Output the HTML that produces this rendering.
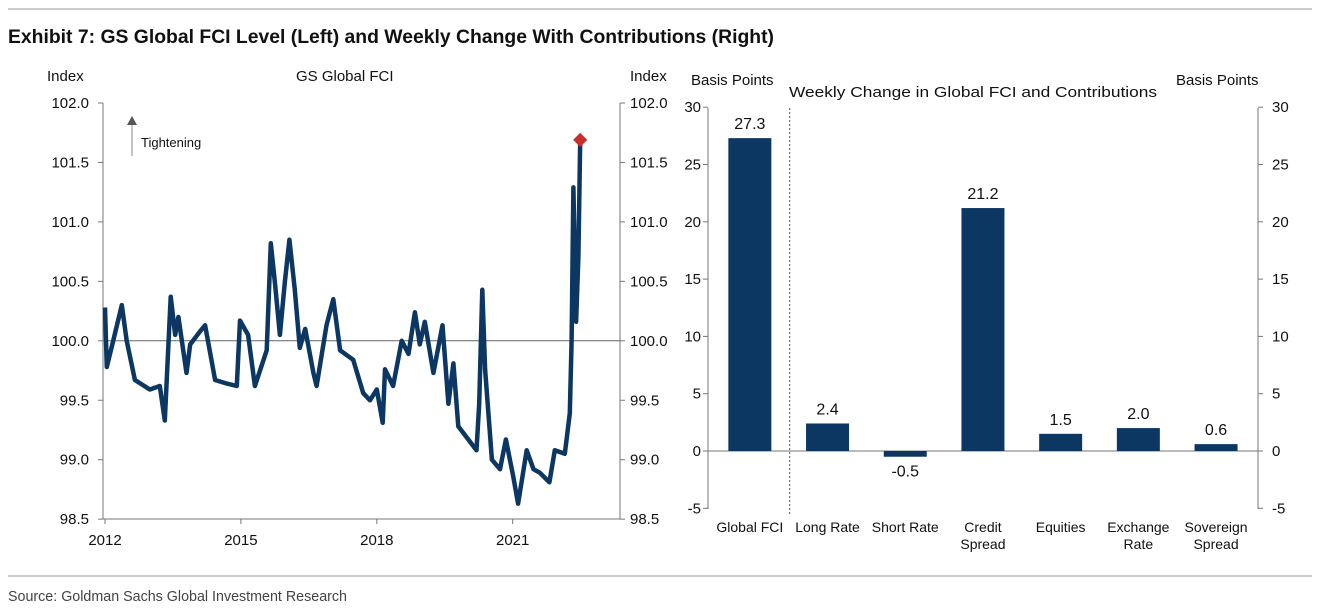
<!DOCTYPE html>
<html><head><meta charset="utf-8"><style>
body{margin:0;background:#fff;width:1318px;height:613px;overflow:hidden;font-family:"Liberation Sans",Arial,sans-serif}
svg{position:absolute;left:0;top:0}
</style></head><body>
<svg width="1318" height="613" id="s">
<line x1="8" y1="9" x2="1312" y2="9" stroke="#999" stroke-width="1"/>
<text x="8" y="43" font-weight="bold" font-size="19" fill="#111" textLength="766" lengthAdjust="spacingAndGlyphs">Exhibit 7: GS Global FCI Level (Left) and Weekly Change With Contributions (Right)</text>
<line x1="8" y1="576" x2="1312" y2="576" stroke="#999" stroke-width="1"/>
<text x="8" y="601" font-size="15" fill="#444" textLength="339" lengthAdjust="spacingAndGlyphs">Source: Goldman Sachs Global Investment Research</text>
<g font-size="15" fill="#111">
<text x="47" y="81">Index</text>
<text x="296" y="81">GS Global FCI</text>
<text x="630" y="81">Index</text>
<text x="691" y="85">Basis Points</text>
<text x="789" y="97" textLength="368" lengthAdjust="spacingAndGlyphs">Weekly Change in Global FCI and Contributions</text>
<text x="1176" y="85">Basis Points</text>
</g>
<g id="left"></g><g id="right"></g>
</svg>
<script>
const years=[2012.0,2012.04,2012.18,2012.37,2012.48,2012.66,2012.99,2013.21,2013.32,2013.45,2013.55,2013.62,2013.80,2013.88,2014.10,2014.21,2014.43,2014.69,2014.91,2014.98,2015.16,2015.31,2015.57,2015.66,2015.75,2015.86,2015.97,2016.07,2016.19,2016.30,2016.42,2016.60,2016.67,2016.89,2017.04,2017.19,2017.48,2017.70,2017.85,2018.00,2018.13,2018.18,2018.36,2018.55,2018.70,2018.84,2018.95,2019.06,2019.25,2019.45,2019.58,2019.69,2019.80,2019.98,2020.20,2020.26,2020.33,2020.39,2020.54,2020.72,2020.85,2021.01,2021.12,2021.31,2021.46,2021.60,2021.81,2021.93,2022.15,2022.26,2022.30,2022.34,2022.40,2022.45,2022.49];
const fci=[100.28,99.78,100.0,100.3,100.0,99.67,99.59,99.62,99.33,100.37,100.05,100.2,99.73,99.97,100.08,100.13,99.67,99.64,99.62,100.17,100.05,99.62,99.92,100.82,100.49,100.05,100.49,100.85,100.43,99.94,100.1,99.73,99.62,100.13,100.35,99.92,99.84,99.56,99.5,99.59,99.31,99.76,99.62,100.0,99.89,100.24,99.97,100.16,99.73,100.13,99.47,99.81,99.28,99.19,99.08,99.47,100.43,99.76,99.0,98.92,99.17,98.86,98.63,99.08,98.92,98.89,98.81,99.08,99.05,99.39,100.0,101.29,100.16,100.71,101.69];
const leftTicks=[102.0,101.5,101.0,100.5,100.0,99.5,99.0,98.5];
const xTicks=[2012,2015,2018,2021];
const cats=[["Global FCI"],["Long Rate"],["Short Rate"],["Credit","Spread"],["Equities"],["Exchange","Rate"],["Sovereign","Spread"]];
const vals=[27.3,2.4,-0.5,21.2,1.5,2.0,0.6];
const labels=["27.3","2.4","-0.5","21.2","1.5","2.0","0.6"];
const rightTicks=[30,25,20,15,10,5,0,-5];

const NS="http://www.w3.org/2000/svg";
function mk(p,t,a,txt){const e=document.createElementNS(NS,t);for(const k in a)e.setAttribute(k,a[k]);if(txt!==undefined)e.textContent=txt;p.appendChild(e);return e;}
const L=document.getElementById('left');
const lx=y=>105+(y-2012)*45.3, ly=v=>103+(102-v)*118.9;
let e;
e=mk(L,'line',{x1:103,y1:103,x2:103,y2:519,stroke:'#777'});

e=mk(L,'line',{x1:620,y1:103,x2:620,y2:519,stroke:'#777'});

e=mk(L,'line',{x1:103,y1:519,x2:620,y2:519,stroke:'#777'});

e=mk(L,'line',{x1:103,y1:ly(100),x2:620,y2:ly(100),stroke:'#666'});

leftTicks.forEach(t=>{const y=ly(t);
 mk(L,'line',{x1:98,y1:y,x2:103,y2:y,stroke:'#777'});
 mk(L,'line',{x1:620,y1:y,x2:625,y2:y,stroke:'#777'});
 e=mk(L,'text',{x:89,y:y+5,'text-anchor':'end','font-size':15,fill:'#111'},t.toFixed(1));
 
 e=mk(L,'text',{x:630,y:y+5,'font-size':15,fill:'#111'},t.toFixed(1));
 
});
xTicks.forEach(t=>{const x=lx(t);
 mk(L,'line',{x1:x,y1:519,x2:x,y2:524,stroke:'#777'});
 e=mk(L,'text',{x:x,y:545,'text-anchor':'middle','font-size':15,fill:'#111'},String(t));
 
});
e=mk(L,'path',{d:years.map((y,i)=>(i?'L':'M')+lx(y).toFixed(1)+','+ly(fci[i]).toFixed(1)).join(''),fill:'none',stroke:'#0c3763','stroke-width':4.5,'stroke-linejoin':'round'});

const lp=[lx(years[years.length-1]),ly(fci[fci.length-1])];
e=mk(L,'rect',{x:lp[0]-5,y:lp[1]-5,width:10,height:10,fill:'#c8312b',transform:`rotate(45 ${lp[0]} ${lp[1]})`});

e=mk(L,'line',{x1:132,y1:156,x2:132,y2:124,stroke:'#888'});

mk(L,'path',{d:'M127,125 L132,116 L137,125Z',fill:'#555'});
e=mk(L,'text',{x:141,y:147,'font-size':13,fill:'#111'},'Tightening');

const R=document.getElementById('right');
const x0=714,bw=77.7,ry=v=>451-v*11.46;
e=mk(R,'line',{x1:x0-6,y1:108,x2:x0-6,y2:509,stroke:'#777'});

e=mk(R,'line',{x1:1258,y1:108,x2:1258,y2:509,stroke:'#777'});

rightTicks.forEach(t=>{const y=ry(t);
 mk(R,'line',{x1:x0-11,y1:y,x2:x0-6,y2:y,stroke:'#777'});
 mk(R,'line',{x1:1258,y1:y,x2:1263,y2:y,stroke:'#777'});
 e=mk(R,'text',{x:701,y:y+5,'text-anchor':'end','font-size':15,fill:'#111'},String(t));
 
 e=mk(R,'text',{x:1272,y:y+5,'font-size':15,fill:'#111'},String(t));
 
});
e=mk(R,'line',{x1:x0-6,y1:ry(0),x2:1258,y2:ry(0),stroke:'#777'});

e=mk(R,'line',{x1:x0+bw-2,y1:108,x2:x0+bw-2,y2:515,stroke:'#555','stroke-dasharray':'2,2'});

vals.forEach((v,i)=>{const cx=x0+bw*(i+0.5)-3;const y1=ry(Math.max(v,0)),y2=ry(Math.min(v,0));
 e=mk(R,'rect',{x:cx-21.5,y:y1,width:43,height:Math.max(y2-y1,1),fill:'#0c3763'});
 
 const ly2=v>=0?y1-9:y2+20;
 e=mk(R,'text',{x:cx,y:ly2,'text-anchor':'middle','font-size':16,fill:'#111'},labels[i]);
 
 cats[i].forEach((c,j)=>{e=mk(R,'text',{x:cx,y:532+j*17,'text-anchor':'middle','font-size':14,fill:'#111'},c);
  });
});
</script>
</body></html>
